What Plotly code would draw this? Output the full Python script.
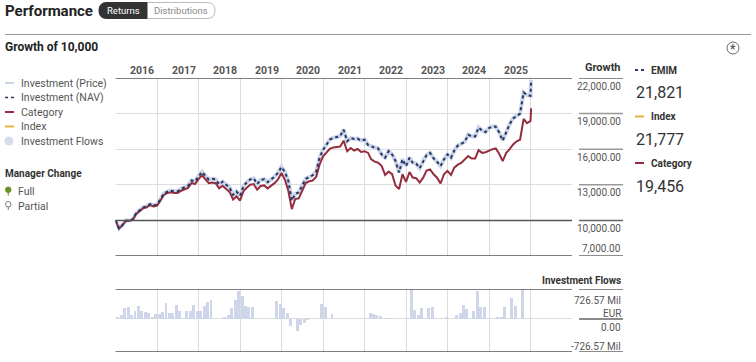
import pandas as pd
import plotly.graph_objects as go

W, H = 756, 362
FONT = "Roboto, Liberation Sans, sans-serif"

# ---------------- data ----------------
line_dates = list(pd.date_range("2015-12-31", periods=121, freq="ME").strftime("%Y-%m-%d")) + ["2026-01-05"]

category = [10000, 9320, 9580, 9950, 9960, 10050, 10550, 10800, 11030, 11110, 11300, 11170,
            11250, 11700, 12150, 12300, 12370, 12310, 12300, 12500, 12640, 12730, 13150, 13060,
            13480, 13800, 13470, 13140, 13190, 13140, 12700, 12920, 12640, 12400, 11750, 12030,
            11660, 12480, 12750, 13000, 13060, 12590, 12900, 12950, 12700, 12900, 13140, 13450,
            14000, 13400, 12500, 10950, 11800, 11860, 12550, 13150, 13300, 13360, 13650, 14700,
            15400, 15750, 16030, 16150, 16200, 16220, 16720, 15830, 16100, 15890, 16020, 15770,
            15830, 15690, 15140, 14950, 14860, 14580, 13830, 14110, 13900, 12920, 12640, 13890,
            13250, 14080, 13610, 13560, 13190, 13600, 14200, 14300, 13890, 13600, 13110, 13890,
            14170, 13830, 14440, 14700, 14850, 15100, 15420, 15220, 15220, 15920, 15690, 15750,
            15900, 16000, 16060, 15600, 15000, 15690, 16000, 16400, 16670, 16800, 18560, 18190,
            18390, 19456]

nav = [10000, 9330, 9600, 9980, 9990, 10090, 10600, 10860, 11100, 11180, 11380, 11250,
       11340, 11800, 12260, 12420, 12500, 12450, 12450, 12660, 12820, 12920, 13360, 13280,
       13720, 14080, 13760, 13440, 13500, 13460, 13030, 13260, 13000, 12780, 12150, 12430,
       12070, 12900, 13190, 13460, 13540, 13070, 13400, 13460, 13220, 13430, 13680, 14000,
       14500, 14050, 13330, 11670, 12230, 12360, 12950, 13500, 13650, 13800, 14100, 15270,
       15950, 16350, 16810, 16950, 17020, 17100, 17640, 16670, 16940, 16860, 16890, 16720,
       16800, 16350, 16250, 16110, 16060, 15550, 15280, 15830, 15550, 15000, 14030, 15140,
       14580, 15280, 14860, 14780, 14390, 15000, 15500, 15690, 15220, 14940, 14580, 15140,
       15560, 15280, 15890, 16300, 16470, 16610, 17220, 17080, 17080, 17830, 17560, 17440,
       17780, 17920, 17900, 17400, 16720, 17500, 18100, 18600, 18800, 19000, 20780, 20560,
       20500, 21821]

index_vals = [10000, 9320, 9590, 9970, 9980, 10080, 10590, 10850, 11080, 11170, 11360, 11240,
              11330, 11790, 12240, 12400, 12490, 12430, 12440, 12650, 12800, 12910, 13340, 13270,
              13700, 14100, 13740, 13420, 13490, 13440, 13020, 13240, 12990, 12760, 12140, 12420,
              12060, 12880, 13170, 13440, 13530, 13060, 13390, 13440, 13210, 13420, 13670, 13990,
              14480, 14040, 13320, 11660, 12210, 12350, 12930, 13490, 13640, 13790, 14090, 15250,
              15930, 16330, 16800, 16930, 17010, 17120, 17700, 16650, 16930, 16840, 16880, 16700,
              16790, 16340, 16240, 16100, 16050, 15540, 15270, 15850, 15540, 14990, 14020, 15130,
              14570, 15270, 14850, 14770, 14380, 14990, 15490, 15700, 15210, 14930, 14570, 15130,
              15550, 15270, 15880, 16290, 16460, 16600, 17210, 17070, 17070, 17820, 17550, 17430,
              17770, 17910, 17890, 17390, 16710, 17490, 18090, 18590, 18790, 18990, 20760, 20450,
              20480, 21777]

price = [10000, 9340, 9610, 9990, 9990, 10100, 10610, 10870, 11110, 11190, 11390, 11260,
         11350, 11810, 12270, 12430, 12510, 12460, 12460, 12670, 12830, 12930, 13370, 13290,
         13730, 14090, 13770, 13450, 13510, 13470, 13040, 13270, 13010, 12790, 12160, 12440,
         12080, 12910, 13200, 13470, 13550, 13080, 13410, 13470, 13230, 13440, 13690, 14010,
         14510, 14060, 13340, 11690, 12240, 12370, 12960, 13510, 13660, 13810, 14110, 15280,
         15960, 16360, 16820, 16960, 17030, 17110, 17650, 16680, 16950, 16870, 16900, 16730,
         16810, 16360, 16260, 16120, 16070, 15560, 15290, 15840, 15560, 15010, 14040, 15150,
         14590, 15290, 14870, 14790, 14400, 15010, 15510, 15700, 15230, 14950, 14590, 15150,
         15570, 15290, 15900, 16310, 16480, 16620, 17230, 17090, 17090, 17840, 17570, 17450,
         17790, 17930, 17910, 17410, 16730, 17510, 18110, 18610, 18810, 19010, 20790, 20570,
         20510, 21830]

flow_dates = list((pd.date_range("2016-01-01", periods=120, freq="MS") + pd.Timedelta(days=14)).strftime("%Y-%m-%d"))
flows = [40, 90, 265, 290, 105, 185, 307, 200, 170, 145, 25, 120,
         120, 160, 387, 145, 145, 331, 185, 5, 200, 185, 347, 185,
         185, 307, 411, 468, 0, 0, 0, 25, 105, 265, 468, 670,
         549, 307, 290, 290, 0, 0, 0, 0, 0, 0, 428, 371,
         266, 145, -161, 0, -298, -153, -97, -20, 0, 0, 0, 363,
         283, 0, 121, 0, 0, 0, 0, 0, 0, 0, 0, 0,
         0, 145, 120, 90, 65, 0, 10, 20, 0, 0, 0, 0,
         10, 710, 225, 105, 265, 0, 265, 290, 0, 0, 0, 40,
         0, 0, 105, 145, 347, 250, 0, 185, 670, 283, 283, 0,
         0, 0, 30, 50, 280, 0, 508, 307, 0, 726.57]

year_labels = ["2016", "2017", "2018", "2019", "2020", "2021", "2022", "2023", "2024", "2025", "YTD"]
year_label_ends = [f"{y}-01-01" for y in range(2017, 2028)]
grid_years = [f"{y}-01-01" for y in range(2017, 2027)]
growth_ticks = [22000, 19000, 16000, 13000, 10000, 7000]
growth_tick_text = ["22,000.00", "19,000.00", "16,000.00", "13,000.00", "10,000.00", "7,000.00"]
flow_max = 726.57
flow_min = -800

right_legend = [("EMIM", "21,821", "#2b3a67", "dot"),
                ("Index", "21,777", "#e3b341", "solid"),
                ("Category", "19,456", "#962d3e", "solid")]

left_legend = ["Investment (Price)", "Investment (NAV)", "Category", "Index", "Investment Flows"]

# ---------------- helpers ----------------
def px(x):
    return x / W

def py(y):
    return 1 - y / H

X_RANGE = ["2015-12-31", "2026-12-31"]
C_NAV = "#27365f"
C_IDX = "#e3b341"
C_CAT = "#962d3e"
C_PRICE = "#cbd5ea"
C_FLOW = "#cfd6ea"

fig = go.Figure()
fig.add_trace(go.Scatter(x=line_dates, y=index_vals, mode="lines", line=dict(color=C_IDX, width=1.5),
                         xaxis="x", yaxis="y", hoverinfo="skip"))
fig.add_trace(go.Scatter(x=line_dates, y=price, mode="lines", line=dict(color=C_PRICE, width=4),
                         xaxis="x", yaxis="y", hoverinfo="skip"))
fig.add_trace(go.Scatter(x=line_dates, y=category, mode="lines", line=dict(color=C_CAT, width=2),
                         xaxis="x", yaxis="y", hoverinfo="skip"))
fig.add_trace(go.Scatter(x=line_dates, y=nav, mode="lines", line=dict(color=C_NAV, width=2, dash="dot"),
                         xaxis="x", yaxis="y", hoverinfo="skip"))
fig.add_trace(go.Bar(x=flow_dates, y=flows, marker=dict(color=C_FLOW, line=dict(width=0)),
                     width=26 * 86400000, xaxis="x2", yaxis="y2", hoverinfo="skip"))

x_dom = [px(115.5), px(572)]
common_x = dict(range=X_RANGE, type="date", domain=x_dom, showticklabels=False, ticks="",
                tickmode="array", tickvals=grid_years, showgrid=True, gridcolor="#dcdcdc",
                gridwidth=1, zeroline=False, showline=False, fixedrange=True)

fig.update_layout(
    width=W, height=H, margin=dict(l=0, r=0, t=0, b=0),
    paper_bgcolor="white", plot_bgcolor="white", showlegend=False,
    font=dict(family=FONT, color="#333"),
    xaxis=dict(**common_x, anchor="y"),
    xaxis2=dict(**common_x, anchor="y2"),
    yaxis=dict(range=[7000, 22000], domain=[py(256), py(78)], showticklabels=False, ticks="",
               tickmode="array", tickvals=[13000, 16000, 19000], showgrid=True,
               gridcolor="#dcdcdc", zeroline=False, fixedrange=True),
    yaxis2=dict(range=[flow_min, flow_max], domain=[py(352), py(289)], showticklabels=False, ticks="",
                tickmode="array", tickvals=[0], showgrid=True, gridcolor="#dcdcdc",
                zeroline=False, fixedrange=True),
    bargap=0,
)

shapes = []
annots = []

for yv in [22000, 10000, 7000]:
    shapes.append(dict(type="line", xref="x domain", yref="y", x0=0, x1=1, y0=yv, y1=yv,
                       line=dict(color="#555", width=1.5)))
for yv in [flow_max, flow_min]:
    shapes.append(dict(type="line", xref="x2 domain", yref="y2", x0=0, x1=1, y0=yv, y1=yv,
                       line=dict(color="#555", width=1.5)))

TICKF = dict(size=10, color="#555")
for v, t in zip(growth_ticks, growth_tick_text):
    dark = v in (22000, 10000, 7000)
    shapes.append(dict(type="line", xref="paper", yref="y", x0=px(579), x1=px(623), y0=v, y1=v,
                       line=dict(color="#666" if dark else "#999", width=1.5)))
    annots.append(dict(xref="paper", yref="y", x=px(623), y=v, yshift=(8 if v == 7000 else -8),
                       text=t, showarrow=False, xanchor="right", yanchor="middle", font=TICKF))
for v in [flow_max, 0, flow_min]:
    shapes.append(dict(type="line", xref="paper", yref="y2", x0=px(579), x1=px(623), y0=v, y1=v,
                       line=dict(color="#666", width=1.5)))
annots.append(dict(xref="paper", yref="y2", x=px(623), y=flow_max, yshift=-11, text="726.57 Mil",
                   showarrow=False, xanchor="right", yanchor="middle", font=TICKF))
annots.append(dict(xref="paper", yref="y2", x=px(623), y=flow_max, yshift=-24, text="EUR",
                   showarrow=False, xanchor="right", yanchor="middle", font=TICKF))
annots.append(dict(xref="paper", yref="y2", x=px(623), y=0, yshift=-9, text="0.00",
                   showarrow=False, xanchor="right", yanchor="middle", font=TICKF))
annots.append(dict(xref="paper", yref="y2", x=px(623), y=flow_min, yshift=6, text="-726.57 Mil",
                   showarrow=False, xanchor="right", yanchor="middle", font=TICKF))

annots.append(dict(xref="paper", yref="paper", x=px(623), y=py(68), text="<b>Growth</b>",
                   showarrow=False, xanchor="right", yanchor="middle", font=dict(size=11, color="#333")))
annots.append(dict(xref="paper", yref="paper", x=px(623), y=py(280), text="<b>Investment Flows</b>",
                   showarrow=False, xanchor="right", yanchor="middle", font=dict(size=10, color="#333")))

for lab, xe in zip(year_labels, year_label_ends):
    annots.append(dict(xref="x", yref="paper", x=xe, y=py(70), xshift=-1, text=f"<b>{lab}</b>",
                       showarrow=False, xanchor="right", yanchor="middle", font=dict(size=10.5, color="#555")))

annots.append(dict(xref="paper", yref="paper", x=px(3), y=py(11), text="<b>Performance</b>",
                   showarrow=False, xanchor="left", yanchor="middle", font=dict(size=15, color="#222")))
annots.append(dict(xref="paper", yref="paper", x=px(3), y=py(47), text="<b>Growth of 10,000</b>",
                   showarrow=False, xanchor="left", yanchor="middle", font=dict(size=12, color="#222")))
shapes.append(dict(type="line", xref="paper", yref="paper", x0=px(5), x1=px(751), y0=py(34.5), y1=py(34.5),
                   line=dict(color="#999", width=1)))


def rrect(x0, y0, x1, y1, r, left=True, right=True):
    p = []
    p.append(f"M {px(x0 + r) if left else px(x0)},{py(y0)}")
    if right:
        p.append(f"L {px(x1 - r)},{py(y0)}")
        p.append(f"Q {px(x1)},{py(y0)} {px(x1)},{py(y0 + r)}")
        p.append(f"Q {px(x1)},{py(y1)} {px(x1 - r)},{py(y1)}")
    else:
        p.append(f"L {px(x1)},{py(y0)} L {px(x1)},{py(y1)}")
    if left:
        p.append(f"L {px(x0 + r)},{py(y1)}")
        p.append(f"Q {px(x0)},{py(y1)} {px(x0)},{py(y1 - r)}")
        p.append(f"Q {px(x0)},{py(y0)} {px(x0 + r)},{py(y0)}")
    else:
        p.append(f"L {px(x0)},{py(y1)}")
    return " ".join(p) + " Z"


shapes.append(dict(type="path", xref="paper", yref="paper", path=rrect(99, 2.5, 215, 18.5, 8),
                   fillcolor="white", line=dict(color="#bbb", width=1)))
shapes.append(dict(type="path", xref="paper", yref="paper", path=rrect(99, 2.5, 147, 18.5, 8, right=False),
                   fillcolor="#333", line=dict(color="#333", width=1)))
annots.append(dict(xref="paper", yref="paper", x=px(123), y=py(10.5), text="Returns", showarrow=False,
                   xanchor="center", yanchor="middle", font=dict(size=9.5, color="white")))
annots.append(dict(xref="paper", yref="paper", x=px(181), y=py(10.5), text="Distributions", showarrow=False,
                   xanchor="center", yanchor="middle", font=dict(size=9.5, color="#888")))

shapes.append(dict(type="circle", xref="paper", yref="paper", x0=px(727), x1=px(739), y0=py(54), y1=py(42),
                   line=dict(color="#666", width=1), fillcolor="white"))
annots.append(dict(xref="paper", yref="paper", x=px(733), y=py(49), text="<b>*</b>", showarrow=False,
                   xanchor="center", yanchor="middle", font=dict(size=12, color="#555")))

leg_y = [83, 97.5, 112, 126.5, 141]
leg_styles = [(C_PRICE, "solid", 2), (C_NAV, "dot", 1.5), (C_CAT, "solid", 2), (C_IDX, "solid", 2)]
for i, (lab, yy) in enumerate(zip(left_legend, leg_y)):
    if i < 4:
        c, d, w = leg_styles[i]
        shapes.append(dict(type="line", xref="paper", yref="paper", x0=px(5), x1=px(14), y0=py(yy), y1=py(yy),
                           line=dict(color=c, width=w, dash=d)))
    else:
        shapes.append(dict(type="circle", xref="paper", yref="paper", x0=px(4.5), x1=px(13.5),
                           y0=py(yy + 4.5), y1=py(yy - 4.5), fillcolor="#d5dcec", line=dict(width=0)))
    annots.append(dict(xref="paper", yref="paper", x=px(19), y=py(yy), text=lab, showarrow=False,
                       xanchor="left", yanchor="middle", font=dict(size=10.5, color="#555")))

annots.append(dict(xref="paper", yref="paper", x=px(3), y=py(173), text="<b>Manager Change</b>", showarrow=False,
                   xanchor="left", yanchor="middle", font=dict(size=10, color="#333")))
shapes.append(dict(type="circle", xref="paper", yref="paper", x0=px(5.5), x1=px(11), y0=py(192.5), y1=py(187),
                   fillcolor="#6b8e23", line=dict(color="#6b8e23", width=1)))
shapes.append(dict(type="line", xref="paper", yref="paper", x0=px(8.25), x1=px(8.25), y0=py(192.5), y1=py(195.5),
                   line=dict(color="#6b8e23", width=1)))
shapes.append(dict(type="circle", xref="paper", yref="paper", x0=px(5.5), x1=px(11), y0=py(207), y1=py(201.5),
                   fillcolor="white", line=dict(color="#777", width=1)))
shapes.append(dict(type="line", xref="paper", yref="paper", x0=px(8.25), x1=px(8.25), y0=py(207), y1=py(210),
                   line=dict(color="#777", width=1)))
annots.append(dict(xref="paper", yref="paper", x=px(16), y=py(191), text="Full", showarrow=False,
                   xanchor="left", yanchor="middle", font=dict(size=10.5, color="#555")))
annots.append(dict(xref="paper", yref="paper", x=px(16), y=py(206), text="Partial", showarrow=False,
                   xanchor="left", yanchor="middle", font=dict(size=10.5, color="#555")))

for k, (name, val, col, dash) in enumerate(right_legend):
    y0 = 70 + k * 46.5
    shapes.append(dict(type="line", xref="paper", yref="paper", x0=px(635), x1=px(644), y0=py(y0), y1=py(y0),
                       line=dict(color=col, width=2, dash=dash)))
    annots.append(dict(xref="paper", yref="paper", x=px(649), y=py(y0), text=f"<b>{name}</b>", showarrow=False,
                       xanchor="left", yanchor="middle", font=dict(size=10, color="#333")))
    annots.append(dict(xref="paper", yref="paper", x=px(634), y=py(y0 + 23), text=val, showarrow=False,
                       xanchor="left", yanchor="middle", font=dict(size=16, color="#333")))

fig.update_layout(shapes=shapes, annotations=annots)
fig.write_html("out.html", post_script="document.body.style.margin='0';",
               config={"displayModeBar": False})
